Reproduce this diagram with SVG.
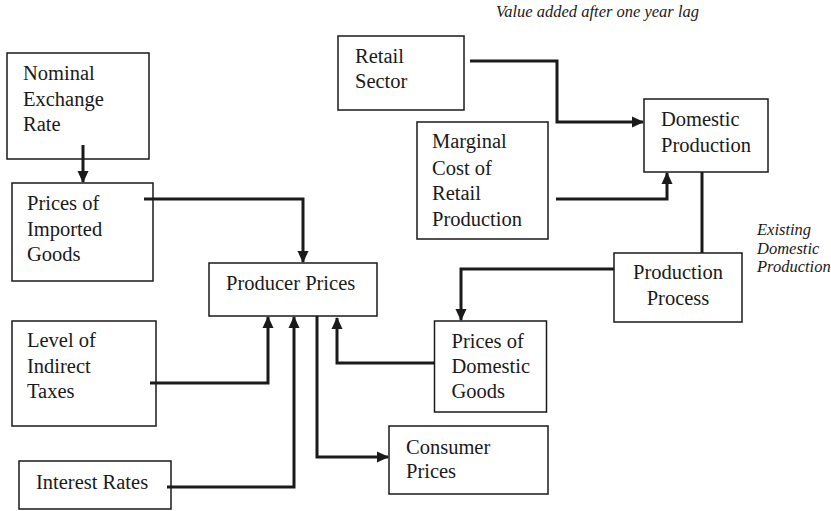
<svg xmlns="http://www.w3.org/2000/svg" width="831" height="511" viewBox="0 0 831 511">
<defs>
<marker id="ah" markerWidth="12" markerHeight="12" refX="11" refY="6" orient="auto" markerUnits="userSpaceOnUse" viewBox="0 0 12 12">
<path d="M0,0.5 L12,6 L0,11.5 z" fill="#1a1a1a"/>
</marker>
<style>
.box{fill:#fff;stroke:#1a1a1a;stroke-width:1.5}
.c{fill:none;stroke:#1a1a1a;stroke-width:3;marker-end:url(#ah)}
.n{fill:none;stroke:#1a1a1a;stroke-width:3}
</style>
</defs>
<rect width="831" height="511" fill="#fff"/>
<g font-family="Liberation Serif, Times New Roman, serif" font-size="20.5" fill="#1a1a1a">
<g id="nominal"><rect class="box" x="7" y="53" width="142" height="106"/><text x="23" y="80">Nominal</text><text x="23" y="105.5">Exchange</text><text x="23" y="131">Rate</text></g>
<g id="imported"><rect class="box" x="12" y="183" width="141" height="98"/><text x="27" y="210">Prices of</text><text x="27" y="235.5">Imported</text><text x="27" y="261">Goods</text></g>
<g id="producer"><rect class="box" x="209" y="263" width="168" height="53"/><text x="226" y="290">Producer Prices</text></g>
<g id="taxes"><rect class="box" x="12" y="321" width="144" height="105"/><text x="27" y="347">Level of</text><text x="27" y="372.5">Indirect</text><text x="27" y="398">Taxes</text></g>
<g id="interest"><rect class="box" x="19" y="461" width="152" height="48"/><text x="36" y="489">Interest Rates</text></g>
<g id="consumer"><rect class="box" x="389" y="426" width="159" height="68"/><text x="406" y="454">Consumer</text><text x="406" y="478">Prices</text></g>
<g id="domgoods"><rect class="box" x="434.5" y="321" width="112" height="91"/><text x="451.5" y="348">Prices of</text><text x="451.5" y="373">Domestic</text><text x="451.5" y="398">Goods</text></g>
<g id="process"><rect class="box" x="614" y="253" width="128" height="69"/><text x="678" y="279" text-anchor="middle">Production</text><text x="678" y="305" text-anchor="middle">Process</text></g>
<g id="retail"><rect class="box" x="338" y="36" width="126" height="74"/><text x="355" y="63">Retail</text><text x="355" y="88">Sector</text></g>
<g id="marginal"><rect class="box" x="417" y="122" width="131" height="117"/><text x="432" y="148">Marginal</text><text x="432" y="174.5">Cost of</text><text x="432" y="200">Retail</text><text x="432" y="225.5">Production</text></g>
<g id="domprod"><rect class="box" x="644" y="99" width="124" height="73"/><text x="661" y="126">Domestic</text><text x="661" y="152">Production</text></g>
<g id="labels" font-style="italic" font-size="16.5"><text x="496" y="17">Value added after one year lag</text><text x="757" y="235">Existing</text><text x="757" y="253.5">Domestic</text><text x="757" y="272">Production</text></g>
</g>
<g id="connectors">
<path class="c" d="M83,145 V182"/>
<path class="c" d="M144,199 H303 V262"/>
<path class="c" d="M150,383 H268 V317"/>
<path class="c" d="M167,487 H294 V317"/>
<path class="c" d="M317,316 V457 H388"/>
<path class="c" d="M434,363 H337 V318"/>
<path class="c" d="M614,269 H461 V320"/>
<path class="n" d="M702,172 V253"/>
<path class="c" d="M470,61 H557 V122 H643"/>
<path class="c" d="M556,199 H667 V173"/>
</g>
</svg>
